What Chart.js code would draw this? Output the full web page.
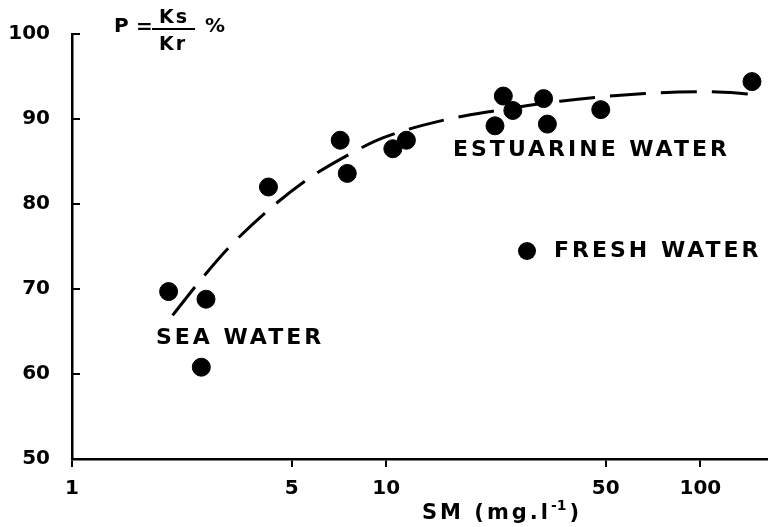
<!DOCTYPE html>
<html>
<head>
<meta charset="utf-8">
<script src="https://cdn.jsdelivr.net/npm/chart.js@4.4.0/dist/chart.umd.min.js"></script>
<style>
html, body { margin: 0; padding: 0; background: #fff; }
</style>
</head>
<body>
<canvas id="chart" width="777" height="527"></canvas>
<script>
// measured points: SM (mg/l) vs P (%)
const smValues = [2.03, 2.67, 2.58, 4.22, 7.14, 7.52, 10.5, 11.6, 22.2, 23.6, 25.3, 31.7, 32.6, 48.2, 146];
const pValues  = [69.7, 68.8, 60.8, 82.0, 87.5, 83.6, 86.5, 87.5, 89.2, 92.7, 91.0, 92.4, 89.4, 91.1, 94.4];

// dashed fitted curve
const curveSM = [2.09, 2.6, 3.2, 4.22, 5.67, 7.68, 9.8, 15.4, 22.5, 35.8, 66.7, 108, 148];
const curveP  = [66.9, 71.3, 75.1, 79.3, 83.0, 85.9, 87.8, 89.9, 91.0, 92.1, 93.0, 93.2, 92.9];

const xTickValues = [1, 5, 10, 50, 100];
const yTickValues = [50, 60, 70, 80, 90, 100];

const FONT = '"DejaVu Sans", sans-serif';

const points = smValues.map((x, i) => ({ x: x, y: pValues[i] }));
const curve = curveSM.map((x, i) => ({ x: x, y: curveP[i] }));

// inward y ticks + the text labels on the plot
const extras = {
    id: 'extras',
    afterDraw(chart) {
        const ctx = chart.ctx;
        const area = chart.chartArea;
        const y = chart.scales.y;
        ctx.save();
        ctx.strokeStyle = '#000';
        ctx.lineWidth = 2;
        yTickValues.forEach(v => {
            const py = y.getPixelForValue(v);
            ctx.beginPath();
            ctx.moveTo(area.left, py);
            ctx.lineTo(area.left + 8, py);
            ctx.stroke();
        });

        ctx.fillStyle = '#000';
        ctx.textBaseline = 'middle';
        ctx.textAlign = 'left';
        ctx.font = 'bold 22px ' + FONT;
        ctx.letterSpacing = '3px';
        ctx.fillText('SEA WATER', 156, 338);
        ctx.fillText('ESTUARINE WATER', 453, 150);
        ctx.fillText('FRESH WATER', 554, 251);

        ctx.beginPath();
        ctx.arc(527, 251, 9, 0, Math.PI * 2);
        ctx.fill();

        // axis title SM (mg.l-1)
        ctx.letterSpacing = '3px';
        ctx.font = 'bold 21px ' + FONT;
        let tx = 422;
        ctx.fillText('SM (mg.l', tx, 514);
        tx += ctx.measureText('SM (mg.l').width;
        ctx.letterSpacing = '0px';
        ctx.font = 'bold 14px ' + FONT;
        ctx.fillText('-1', tx, 506);
        tx += ctx.measureText('-1').width + 3;
        ctx.font = 'bold 21px ' + FONT;
        ctx.fillText(')', tx, 514);

        // formula P = Ks / Kr %
        ctx.letterSpacing = '2px';
        ctx.font = 'bold 20px ' + FONT;
        ctx.fillText('P', 114, 27);
        ctx.fillText('=', 136, 28);
        ctx.fillText('%', 205, 27);
        ctx.font = 'bold 19px ' + FONT;
        ctx.fillText('Ks', 159, 18);
        ctx.fillText('Kr', 159, 45);
        ctx.lineWidth = 2;
        ctx.beginPath();
        ctx.moveTo(152, 29);
        ctx.lineTo(195, 29);
        ctx.stroke();
        ctx.restore();
    }
};

const ctx = document.getElementById('chart').getContext('2d');
const myChart = new Chart(ctx, {
    type: 'scatter',
    data: {
        datasets: [{
            label: 'Fit',
            data: curve,
            showLine: true,
            borderColor: '#000',
            borderWidth: 3,
            borderDash: [36, 15],
            pointRadius: 0,
            tension: 0.4,
            cubicInterpolationMode: 'monotone'
        }, {
            label: 'Measured',
            data: points,
            backgroundColor: '#000',
            borderColor: '#000',
            pointRadius: 9,
            pointHoverRadius: 9
        }]
    },
    options: {
        responsive: false,
        animation: false,
        layout: { padding: { top: 30, right: 0, left: 0, bottom: 0 } },
        plugins: {
            legend: { display: false },
            tooltip: { enabled: false }
        },
        scales: {
            x: {
                type: 'logarithmic',
                min: 1,
                max: 163,
                afterBuildTicks: scale => {
                    scale.ticks = xTickValues.map(v => ({ value: v }));
                },
                afterFit: scale => { scale.height = 68; },
                border: { display: true, color: '#000', width: 2.5 },
                grid: { drawOnChartArea: false, drawTicks: true, tickLength: 8, color: '#000', lineWidth: 2 },
                ticks: {
                    color: '#000',
                    font: { family: FONT, size: 20, weight: 'bold' },
                    padding: 10,
                    maxRotation: 0,
                    autoSkip: false,
                    callback: value => String(value)
                }
            },
            y: {
                min: 50,
                max: 100,
                afterBuildTicks: scale => {
                    scale.ticks = yTickValues.map(v => ({ value: v }));
                },
                afterFit: scale => { scale.width = 72; },
                border: { display: true, color: '#000', width: 2.5 },
                grid: { drawOnChartArea: false, drawTicks: false },
                ticks: {
                    color: '#000',
                    font: { family: FONT, size: 20, weight: 'bold' },
                    padding: 22,
                    callback: value => String(value)
                }
            }
        }
    },
    plugins: [extras]
});
</script>
</body>
</html>
